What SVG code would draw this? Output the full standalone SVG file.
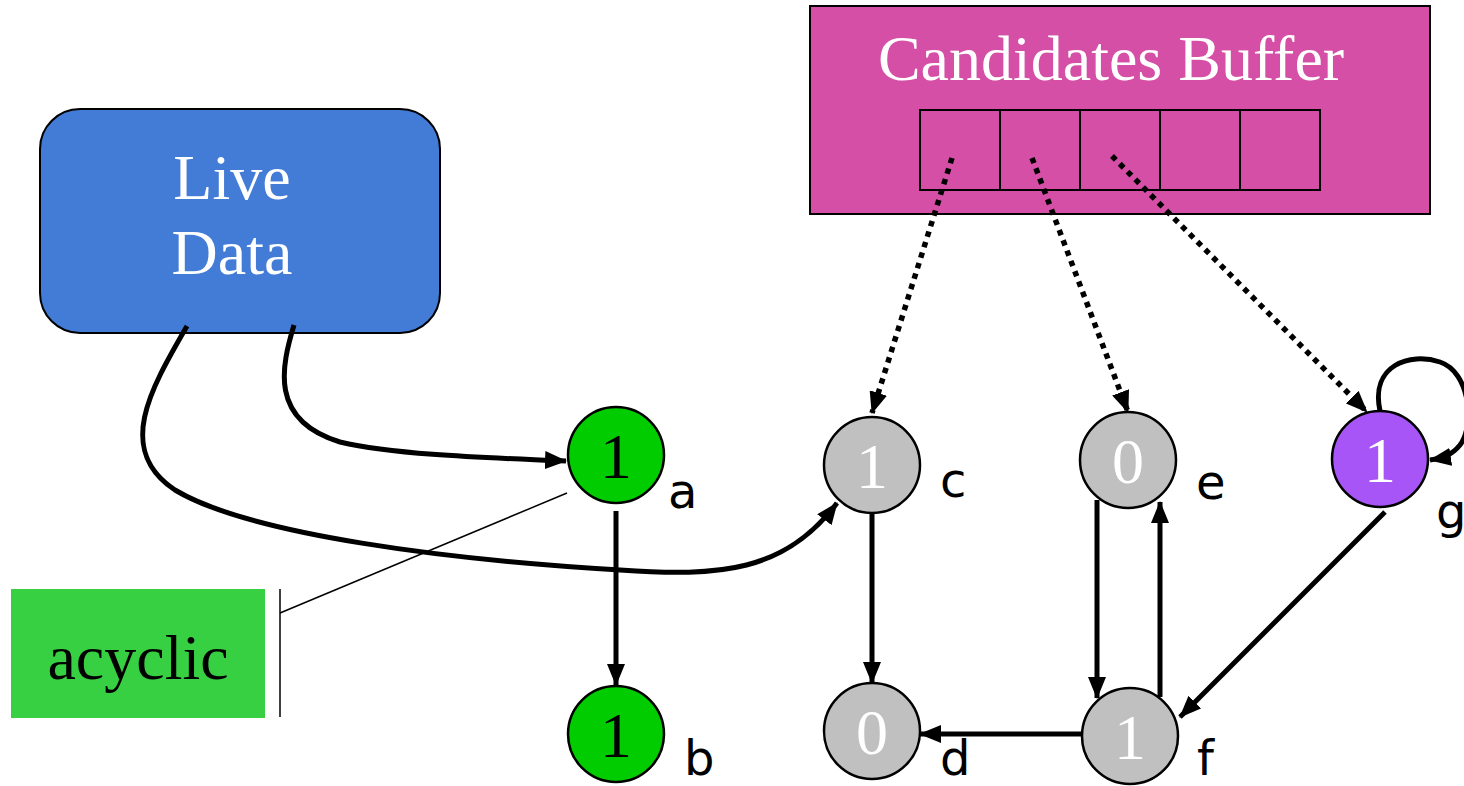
<svg xmlns="http://www.w3.org/2000/svg" width="1464" height="786" viewBox="0 0 1464 786">
<style>
.serif{font-family:"Liberation Serif","Times New Roman",serif;}
.lbl{font-family:"DejaVu Sans",Verdana,sans-serif;font-size:48px;fill:#000;}
.node{stroke:#000;stroke-width:2.5;}
.num{font-family:"Liberation Serif","Times New Roman",serif;font-size:64px;text-anchor:middle;}
.edge{fill:none;stroke:#000;stroke-width:5;marker-end:url(#ah);}
.dot{fill:none;stroke:#000;stroke-width:5.5;stroke-dasharray:5.5 5.5;marker-end:url(#ah);}
</style>
<defs>
<marker id="ah" markerUnits="userSpaceOnUse" markerWidth="22" markerHeight="18" refX="21" refY="9" orient="auto">
<path d="M0,0 L22,9 L0,18 z" fill="#000"/>
</marker>
</defs>
<rect width="1464" height="786" fill="#fff"/>
<g id="buffer">
<rect x="810" y="6" width="620" height="208" fill="#d54fa6" stroke="#000" stroke-width="2"/>
<text class="serif" x="1111" y="80" font-size="64" fill="#fff" text-anchor="middle">Candidates Buffer</text>
<g fill="none" stroke="#000" stroke-width="2">
<rect x="920" y="110" width="400" height="80"/>
<line x1="1000" y1="110" x2="1000" y2="190"/>
<line x1="1080" y1="110" x2="1080" y2="190"/>
<line x1="1160" y1="110" x2="1160" y2="190"/>
<line x1="1240" y1="110" x2="1240" y2="190"/>
</g>
</g>
<g id="live">
<rect x="40" y="109" width="400" height="224" rx="40" fill="#427cd6" stroke="#000" stroke-width="2"/>
<text class="serif" x="232" y="199" font-size="64" fill="#fff" text-anchor="middle">Live</text>
<text class="serif" x="232" y="274" font-size="64" fill="#fff" text-anchor="middle">Data</text>
</g>
<g id="acyclic">
<rect x="11" y="589" width="254" height="129" fill="#38d043"/>
<text class="serif" x="138" y="679" font-size="64" fill="#000" text-anchor="middle">acyclic</text>
<line x1="280" y1="589" x2="280" y2="717" stroke="#000" stroke-width="1.5"/>
<line x1="280" y1="613" x2="567" y2="493" stroke="#000" stroke-width="1.5"/>
</g>
<g id="connectors">
<path class="edge" d="M294 325 C282 365 268 420 340 442 C400 456 500 458 566 461"/>
<path class="edge" d="M187 326 C150 390 115 450 175 490 C250 535 450 560 620 570 C720 577 785 572 837 503"/>
<line class="edge" x1="616" y1="511" x2="616" y2="685"/>
<line class="edge" x1="872" y1="513" x2="872" y2="683"/>
<line class="edge" x1="1097" y1="500" x2="1097" y2="698"/>
<line class="edge" x1="1160" y1="697" x2="1160" y2="502"/>
<line class="edge" x1="1081" y1="734" x2="920" y2="734"/>
<line class="edge" x1="1385" y1="512" x2="1180" y2="717"/>
<path class="edge" d="M1380 411 C1370 365 1410 352 1440 362 C1470 372 1475 425 1460 445 C1452 455 1443 458 1430 460"/>
<line class="dot" x1="952" y1="158" x2="872" y2="413"/>
<line class="dot" x1="1032" y1="158" x2="1128" y2="412"/>
<line class="dot" x1="1112" y1="156" x2="1367" y2="412"/>
</g>
<g id="node-a">
<circle class="node" cx="616" cy="455" r="48" fill="#00cc00"/>
<text class="num" x="616" y="478" fill="#000">1</text>
<text class="lbl" x="668" y="508">a</text>
</g>
<g id="node-b">
<circle class="node" cx="616" cy="734" r="48" fill="#00cc00"/>
<text class="num" x="616" y="757" fill="#000">1</text>
<text class="lbl" x="684" y="775">b</text>
</g>
<g id="node-c">
<circle class="node" cx="872" cy="465" r="48" fill="#c0c0c0"/>
<text class="num" x="872" y="488" fill="#fff">1</text>
<text class="lbl" x="940" y="497">c</text>
</g>
<g id="node-d">
<circle class="node" cx="872" cy="731" r="48" fill="#c0c0c0"/>
<text class="num" x="872" y="754" fill="#fff">0</text>
<text class="lbl" x="940" y="775">d</text>
</g>
<g id="node-e">
<circle class="node" cx="1128" cy="460" r="48" fill="#c0c0c0"/>
<text class="num" x="1128" y="483" fill="#fff">0</text>
<text class="lbl" x="1196" y="499">e</text>
</g>
<g id="node-f">
<circle class="node" cx="1130" cy="736" r="48" fill="#c0c0c0"/>
<text class="num" x="1130" y="759" fill="#fff">1</text>
<text class="lbl" x="1197" y="775">f</text>
</g>
<g id="node-g">
<circle class="node" cx="1380" cy="459" r="48" fill="#a855f7"/>
<text class="num" x="1380" y="482" fill="#fff">1</text>
<text class="lbl" x="1436" y="528">g</text>
</g>
</svg>
